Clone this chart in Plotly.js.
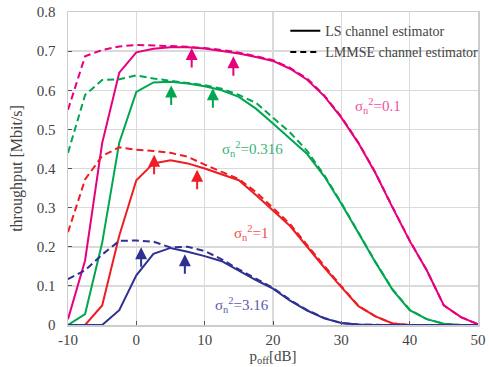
<!DOCTYPE html>
<html><head><meta charset="utf-8">
<script src="https://cdn.plot.ly/plotly-3.0.1.min.js"></script>
<style>html,body{margin:0;padding:0;background:#fff;}#chart{width:489px;height:367px;}</style>
</head><body><div id="chart"></div>
<script>
const pOff = [-10,-7.5,-5,-2.5,0,2.5,5,7.5,10,12.5,15,17.5,20,22.5,25,27.5,30,32.5,35,37.5,40,42.5,45,47.5,50];

const ls_01      = [0.015,0.165,0.465,0.645,0.697,0.706,0.71,0.71,0.707,0.701,0.694,0.685,0.675,0.655,0.627,0.585,0.53,0.465,0.388,0.30,0.215,0.14,0.05,0.02,0.002];
const lmmse_01   = [0.55,0.687,0.703,0.712,0.716,0.715,0.713,0.711,0.708,0.703,0.696,0.687,0.677,0.657,0.63,0.587,0.532,0.466,0.389,0.301,0.216,0.14,0.05,0.02,0.002];
const ls_0316    = [0,0.028,0.21,0.466,0.596,0.62,0.622,0.617,0.61,0.60,0.583,0.553,0.515,0.477,0.437,0.38,0.31,0.235,0.16,0.09,0.038,0.015,0.003,0,0];
const lmmse_0316 = [0.44,0.588,0.626,0.628,0.638,0.63,0.624,0.619,0.613,0.604,0.588,0.568,0.53,0.492,0.445,0.383,0.312,0.236,0.161,0.091,0.039,0.015,0.003,0,0];
const ls_1       = [0,0,0.05,0.228,0.37,0.413,0.421,0.413,0.40,0.386,0.37,0.332,0.292,0.253,0.20,0.147,0.097,0.048,0.022,0.004,0,0,0,0,0];
const lmmse_1    = [0.237,0.372,0.432,0.454,0.448,0.445,0.44,0.43,0.41,0.392,0.373,0.34,0.298,0.258,0.204,0.15,0.099,0.049,0.022,0.004,0,0,0,0,0];
const ls_316     = [0,0,0,0.038,0.127,0.182,0.197,0.187,0.176,0.163,0.138,0.115,0.093,0.062,0.037,0.017,0.005,0.001,0,0,0,0,0,0,0];
const lmmse_316  = [0.117,0.14,0.18,0.215,0.216,0.213,0.198,0.2,0.189,0.168,0.142,0.118,0.095,0.064,0.038,0.018,0.005,0.001,0,0,0,0,0,0,0];

const xTickVals   = [-10, 0, 10, 20, 30, 40, 50];
const xTickLabels = ['-10', '0', '10', '20', '30', '40', '50'];

const noiseLabels = ['σ<sub>n</sub><sup>2</sup>=0.1','σ<sub>n</sub><sup>2</sup>=0.316','σ<sub>n</sub><sup>2</sup>=1','σ<sub>n</sub><sup>2</sup>=3.16'];
const labelX = [35.3, 17.0, 16.8, 15.4];
const labelY = [0.56, 0.45, 0.236, 0.05];

const arrowX    = [8.1, 14.2, 5.1, 11.2, 2.6, 8.9, 0.7, 7.1];
const arrowTipY = [0.708, 0.687, 0.612, 0.605, 0.435, 0.397, 0.199, 0.181];
const arrowGroup = [0,0,1,1,2,2,3,3];

const legendNames = ['LS channel estimator','LMMSE channel estimator'];

const lineColors  = ['#e6007e','#00a650','#ee1d23','#2e3192'];
const labelColors = ['#ee4fa0','#36b574','#f15054','#5a5da8'];
const lsSeries    = [ls_01, ls_0316, ls_1, ls_316];
const lmmseSeries = [lmmse_01, lmmse_0316, lmmse_1, lmmse_316];

const FONT = '"Liberation Serif", "DejaVu Serif", serif';
const traces = [];
for (let i = 0; i < 4; i++) {
  traces.push({x: pOff, y: lmmseSeries[i], mode: 'lines', showlegend: false,
    line: {color: lineColors[i], width: 2, dash: '7px,4px'}, hoverinfo: 'skip'});
  traces.push({x: pOff, y: lsSeries[i], mode: 'lines', showlegend: false,
    line: {color: lineColors[i], width: 2}, hoverinfo: 'skip'});
}
traces.push({x: [null], y: [null], mode: 'lines', name: legendNames[0], line: {color: '#000', width: 2}});
traces.push({x: [null], y: [null], mode: 'lines', name: legendNames[1], line: {color: '#000', width: 2, dash: '6px,4px'}});

const annotations = [];
for (let i = 0; i < noiseLabels.length; i++) {
  annotations.push({x: labelX[i], y: labelY[i], xref: 'x', yref: 'y', text: noiseLabels[i],
    showarrow: false, font: {family: FONT, size: 15, color: labelColors[i]}});
}
for (let i = 0; i < arrowX.length; i++) {
  annotations.push({x: arrowX[i], y: arrowTipY[i], xref: 'x', yref: 'y', text: '',
    showarrow: true, ax: 0, ay: 21, arrowhead: 2, arrowsize: 1.2, arrowwidth: 2,
    arrowcolor: lineColors[arrowGroup[i]], standoff: 0});
}

const axisCommon = {
  automargin: false,
  showgrid: true, gridcolor: '#dadada', gridwidth: 1.5, zeroline: false,
  showline: true, linecolor: '#cccccc', linewidth: 1.5, mirror: true,
  ticks: 'inside', ticklen: 4, tickcolor: '#555', tickwidth: 1,
  tickfont: {family: FONT, size: 15, color: '#444'}
};

const layout = {
  width: 489, height: 367,
  margin: {l: 68, r: 11, t: 12, b: 42, autoexpand: false},
  paper_bgcolor: '#fff', plot_bgcolor: '#fff',
  font: {family: FONT, color: '#444'},
  xaxis: Object.assign({}, axisCommon, {range: [-10, 50], tickmode: 'array',
    tickvals: xTickVals, ticktext: xTickLabels,
    ticklabelstandoff: 0,
    title: {text: 'p<sub>off</sub>[dB]', font: {family: FONT, size: 15, color: '#444'}, standoff: 4}}),
  yaxis: Object.assign({}, axisCommon, {range: [0, 0.8], dtick: 0.1, tick0: 0,
    ticklabelstandoff: 8,
    title: {text: 'throughput [Mbit/s]', font: {family: FONT, size: 16, color: '#444'}, standoff: 10}}),
  legend: {x: 0.53, y: 0.99, xanchor: 'left', yanchor: 'top', bgcolor: 'rgba(0,0,0,0)',
    font: {family: FONT, size: 14, color: '#444'}, tracegroupgap: 0},
  annotations: annotations,
  showlegend: true
};

Plotly.newPlot('chart', traces, layout, {staticPlot: true, displayModeBar: false});
</script>
</body></html>
